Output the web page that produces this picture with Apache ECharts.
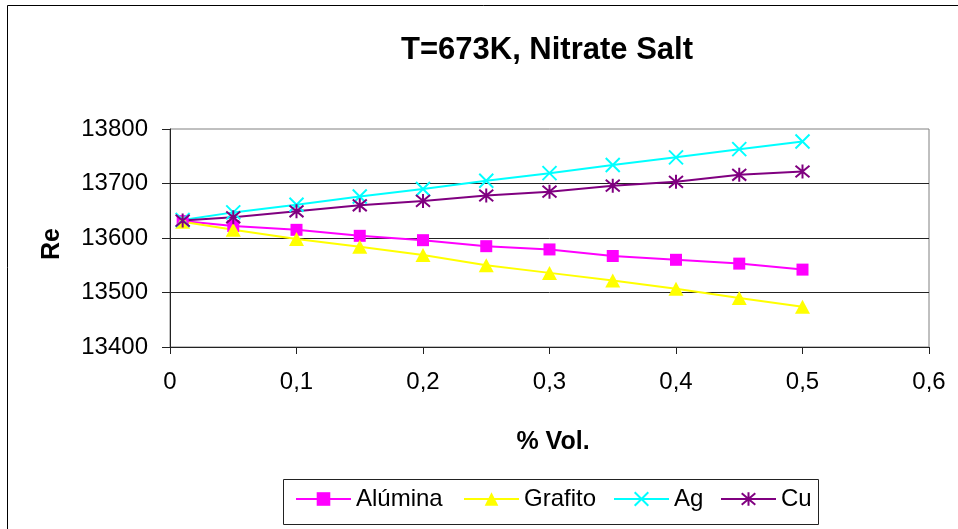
<!DOCTYPE html>
<html>
<head>
<meta charset="utf-8">
<title>T=673K, Nitrate Salt</title>
<script src="https://cdn.jsdelivr.net/npm/echarts@6/dist/echarts.min.js"></script>
<style>
  html, body { margin: 0; padding: 0; background: #fff; }
  #chart { width: 958px; height: 529px; }
</style>
</head>
<body>
<div id="chart"></div>
<script>
// Volume fraction of nanoparticles (%) and Reynolds number per additive
const volFraction = [0.01, 0.05, 0.1, 0.15, 0.2, 0.25, 0.3, 0.35, 0.4, 0.45, 0.5];
const alumina = [13631, 13622, 13615, 13604, 13596, 13585, 13579, 13567, 13560, 13553, 13542];
const grafito = [13630, 13615, 13598, 13584, 13569, 13550, 13536, 13522, 13507, 13490, 13474];
const ag      = [13633, 13647, 13661, 13676, 13690, 13705, 13719, 13734, 13748, 13763, 13777];
const cu      = [13632, 13638, 13649, 13660, 13668, 13678, 13685, 13696, 13703, 13716, 13722];
const seriesNames = ['Alúmina', 'Grafito', 'Ag', 'Cu'];
const yTicks = { min: 13400, max: 13800, step: 100 };
const xTicks = { min: 0, max: 0.6, step: 0.1 };

const FONT = "'Liberation Sans', Arial, sans-serif";
const pairs = vals => volFraction.map((x, i) => [x, vals[i]]);

const X_MARK = 'path://M0,0L10,10M10,0L0,10';
const STAR_MARK = 'path://M0,0L10,10M10,0L0,10M5,-1L5,11';

const chart = echarts.init(document.getElementById('chart'), null, { renderer: 'canvas' });

function legendAt(name, left) {
  return {
    data: [name],
    left: left,
    top: 487,
    padding: 0,
    itemWidth: 55,
    itemHeight: 17,
    selectedMode: false,
    textStyle: { fontFamily: FONT, fontSize: 24, color: '#000' }
  };
}

chart.setOption({
  animation: false,
  backgroundColor: '#fff',
  title: {
    text: 'T=673K, Nitrate Salt',
    left: 542,
    textAlign: 'center',
    top: 30,
    textStyle: { fontFamily: FONT, fontSize: 31, fontWeight: 'bold', color: '#000' }
  },
  grid: {
    left: 170, top: 129, right: 29, bottom: 182,
    show: true, borderColor: '#808080', borderWidth: 1, backgroundColor: 'transparent'
  },
  xAxis: {
    type: 'value',
    min: xTicks.min, max: xTicks.max, interval: xTicks.step,
    axisLine: { show: true, onZero: false, lineStyle: { color: '#222', width: 1 } },
    axisTick: { show: true, inside: false, length: 7, lineStyle: { color: '#222' } },
    splitLine: { show: false },
    axisLabel: {
      margin: 23,
      fontFamily: FONT, fontSize: 24, color: '#000',
      formatter: v => String(Math.round(v * 10) / 10).replace('.', ',')
    }
  },
  yAxis: {
    type: 'value',
    min: yTicks.min, max: yTicks.max, interval: yTicks.step,
    axisLine: { show: true, lineStyle: { color: '#222', width: 1 } },
    axisTick: { show: true, inside: false, length: 8, lineStyle: { color: '#222' } },
    splitLine: { show: true, showMaxLine: false, lineStyle: { color: '#222', width: 1 } },
    axisLabel: { margin: 22, fontFamily: FONT, fontSize: 24, color: '#000',
                 formatter: v => String(v) }
  },
  legend: [
    legendAt(seriesNames[0], 295),
    legendAt(seriesNames[1], 463),
    legendAt(seriesNames[2], 613),
    legendAt(seriesNames[3], 720)
  ],
  graphic: [
    { type: 'rect', silent: true, z: -1,
      shape: { x: 7.5, y: 5.5, width: 1000, height: 600 },
      style: { fill: '#fff', stroke: '#000', lineWidth: 1 } },
    { type: 'rect', silent: true, z: 0,
      shape: { x: 283.5, y: 479.5, width: 535, height: 45 },
      style: { fill: 'transparent', stroke: '#222', lineWidth: 1 } },
    { type: 'text', silent: true, x: 52, y: 244, rotation: Math.PI / 2,
      style: { text: 'Re', fontFamily: FONT, fontSize: 25, fontWeight: 'bold', fill: '#000',
               align: 'center', verticalAlign: 'middle' } },
    { type: 'text', silent: true, x: 553, y: 442,
      style: { text: '% Vol.', fontFamily: FONT, fontSize: 25, fontWeight: 'bold', fill: '#000',
               align: 'center', verticalAlign: 'middle' } }
  ],
  series: [
    {
      name: seriesNames[0], type: 'line', data: pairs(alumina),
      symbol: 'rect', symbolSize: 12, showAllSymbol: true,
      lineStyle: { color: '#FF00FF', width: 2 },
      itemStyle: { color: '#FF00FF' }
    },
    {
      name: seriesNames[1], type: 'line', data: pairs(grafito),
      symbol: 'triangle', symbolSize: [15, 14], showAllSymbol: true,
      lineStyle: { color: '#FFFF00', width: 2 },
      itemStyle: { color: '#FFFF00' }
    },
    {
      name: seriesNames[2], type: 'line', data: pairs(ag),
      symbol: X_MARK, symbolSize: 14, showAllSymbol: true,
      lineStyle: { color: '#00FFFF', width: 2 },
      itemStyle: { color: '#00FFFF', borderColor: '#00FFFF', borderWidth: 2 }
    },
    {
      name: seriesNames[3], type: 'line', data: pairs(cu),
      symbol: STAR_MARK, symbolSize: 14, showAllSymbol: true,
      lineStyle: { color: '#800080', width: 2 },
      itemStyle: { color: '#800080', borderColor: '#800080', borderWidth: 2 }
    }
  ]
});
</script>
</body>
</html>
